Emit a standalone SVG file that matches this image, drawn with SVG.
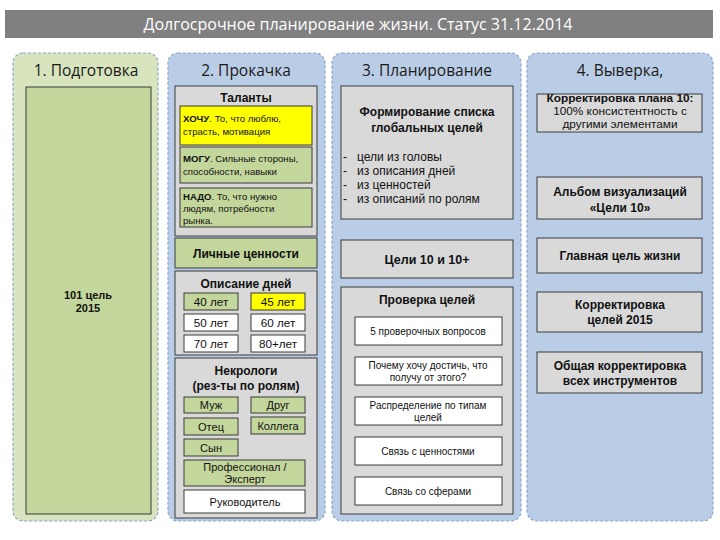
<svg xmlns="http://www.w3.org/2000/svg" width="720" height="540" viewBox="0 0 720 540">
<style>
.col{stroke:#8aa5cc;stroke-width:1.2;stroke-dasharray:3,2}
.cb{fill:#bacde6}
.cg{fill:#d7e4bd}
.hd{font-family:"Open Sans","Noto Sans",sans-serif;font-size:15.5px;fill:#1a1a1a;text-anchor:middle}
.bx{stroke:#3a3a3a;stroke-width:1}
.gray{fill:#d9d9d9}
.grn{fill:#c3d69b}
.yel{fill:#ffff00}
.wht{fill:#ffffff}
.t{font-family:"Liberation Sans",Arial,sans-serif;fill:#111}
.b{font-weight:bold}
.c{text-anchor:middle}
</style>
<rect width="720" height="540" fill="#ffffff"/>
<g id="header">
<rect x="5" y="10" width="708" height="28" fill="#808080"/>
<text x="358" y="30" class="hd" style="fill:#ffffff;font-size:16px">Долгосрочное планирование жизни. Статус 31.12.2014</text>
</g>
<g id="col1">
<rect x="13" y="53" width="145" height="468" rx="10" class="col cg"/>
<text x="86" y="76" class="hd">1. Подготовка</text>
</g>
<g id="col2">
<rect x="168" y="53" width="157" height="468" rx="10" class="col cb"/>
<text x="246" y="76" class="hd">2. Прокачка</text>
</g>
<g id="col3">
<rect x="332" y="53" width="189" height="468" rx="10" class="col cb"/>
<text x="427" y="76" class="hd">3. Планирование</text>
</g>
<g id="col4">
<rect x="527" y="53" width="186" height="468" rx="10" class="col cb"/>
<text x="620" y="76" class="hd">4. Выверка,</text>
</g>
<g id="goal101">
<rect x="26" y="87" width="125" height="427" class="bx grn"/>
<text x="88" y="299" class="t b c" font-size="11">101 цель</text>
<text x="88" y="312" class="t b c" font-size="11">2015</text>
</g>
<g id="talents">
<rect x="175" y="86" width="142" height="150" class="bx gray"/>
<text x="246" y="102" class="t b c" font-size="12">Таланты</text>
</g>
<g id="want">
<rect x="180" y="106" width="132" height="39" class="bx yel"/>
<text x="183" y="122" class="t" font-size="9.6"><tspan class="b">ХОЧУ</tspan>. То, что люблю,</text>
<text x="183" y="135" class="t" font-size="9.6">страсть, мотивация</text>
</g>
<g id="can">
<rect x="180" y="147" width="132" height="36" class="bx grn"/>
<text x="183" y="162" class="t" font-size="9.6"><tspan class="b">МОГУ</tspan>. Сильные стороны,</text>
<text x="183" y="175" class="t" font-size="9.6">способности, навыки</text>
</g>
<g id="need">
<rect x="180" y="188" width="132" height="39" class="bx grn"/>
<text x="183" y="200" class="t" font-size="9.6"><tspan class="b">НАДО</tspan>. То, что нужно</text>
<text x="183" y="212" class="t" font-size="9.6">людям, потребности</text>
<text x="183" y="224" class="t" font-size="9.6">рынка.</text>
</g>
<g id="values">
<rect x="175" y="238" width="142" height="30" class="bx grn"/>
<text x="246" y="258" class="t b c" font-size="12">Личные ценности</text>
</g>
<g id="days">
<rect x="175" y="271" width="142" height="84" class="bx gray"/>
<text x="246" y="288" class="t b c" font-size="12">Описание дней</text>
</g>
<g id="d40"><rect x="184" y="293" width="54" height="17" class="bx grn"/><text x="211" y="306" class="t c" font-size="11.7">40 лет</text></g>
<g id="d45"><rect x="251" y="293" width="54" height="17" class="bx yel"/><text x="278" y="306" class="t c" font-size="11.7">45 лет</text></g>
<g id="d50"><rect x="184" y="314" width="54" height="17" class="bx wht"/><text x="211" y="327" class="t c" font-size="11.7">50 лет</text></g>
<g id="d60"><rect x="251" y="314" width="54" height="17" class="bx wht"/><text x="278" y="327" class="t c" font-size="11.7">60 лет</text></g>
<g id="d70"><rect x="184" y="335" width="54" height="17" class="bx wht"/><text x="211" y="348" class="t c" font-size="11.7">70 лет</text></g>
<g id="d80"><rect x="251" y="335" width="54" height="17" class="bx wht"/><text x="278" y="348" class="t c" font-size="11.7">80+лет</text></g>
<g id="obits">
<rect x="175" y="358" width="142" height="160" class="bx gray"/>
<text x="246" y="375" class="t b c" font-size="12">Некрологи</text>
<text x="246" y="390" class="t b c" font-size="12">(рез-ты по ролям)</text>
</g>
<g id="r-husband"><rect x="184" y="397" width="54" height="16" class="bx grn"/><text x="211" y="409" class="t c" font-size="11">Муж</text></g>
<g id="r-friend"><rect x="251" y="397" width="54" height="16" class="bx grn"/><text x="278" y="409" class="t c" font-size="11">Друг</text></g>
<g id="r-father"><rect x="184" y="418" width="54" height="17" class="bx grn"/><text x="211" y="431" class="t c" font-size="11">Отец</text></g>
<g id="r-colleague"><rect x="251" y="417" width="54" height="17" class="bx grn"/><text x="278" y="430" class="t c" font-size="11">Коллега</text></g>
<g id="r-son"><rect x="184" y="439" width="54" height="17" class="bx grn"/><text x="211" y="452" class="t c" font-size="11">Сын</text></g>
<g id="r-pro"><rect x="184" y="460" width="121" height="26" class="bx grn"/><text x="245" y="471" class="t c" font-size="11">Профессионал /</text><text x="245" y="483" class="t c" font-size="11">Эксперт</text></g>
<g id="r-lead"><rect x="184" y="490" width="121" height="23" class="bx wht"/><text x="245" y="506" class="t c" font-size="11">Руководитель</text></g>
<g id="formlist">
<rect x="341" y="86" width="172" height="133" class="bx gray"/>
<text x="427" y="116" class="t b c" font-size="12">Формирование списка</text>
<text x="427" y="132" class="t b c" font-size="12">глобальных целей</text>
<g class="t" font-size="12">
<text x="343" y="161">-</text><text x="357" y="161">цели из головы</text>
<text x="343" y="175">-</text><text x="357" y="175">из описания дней</text>
<text x="343" y="189">-</text><text x="357" y="189">из ценностей</text>
<text x="343" y="203">-</text><text x="357" y="203">из описаний по ролям</text>
</g>
</g>
<g id="goals10">
<rect x="341" y="240" width="172" height="38" class="bx gray"/>
<text x="427" y="264" class="t b c" font-size="12.5">Цели 10 и 10+</text>
</g>
<g id="check">
<rect x="341" y="287" width="172" height="227" class="bx gray"/>
<text x="427" y="304" class="t b c" font-size="12">Проверка целей</text>
</g>
<g id="q5"><rect x="355" y="317" width="147" height="28" class="bx wht"/><text x="428" y="335" class="t c" font-size="10">5 проверочных вопросов</text></g>
<g id="why"><rect x="355" y="357" width="147" height="28" class="bx wht"/><text x="428" y="369" class="t c" font-size="10">Почему хочу достичь, что</text><text x="428" y="381" class="t c" font-size="10">получу от этого?</text></g>
<g id="types"><rect x="355" y="397" width="147" height="28" class="bx wht"/><text x="428" y="409" class="t c" font-size="10">Распределение по типам</text><text x="428" y="421" class="t c" font-size="10">целей</text></g>
<g id="linkvals"><rect x="355" y="437" width="147" height="28" class="bx wht"/><text x="428" y="455" class="t c" font-size="10">Связь с ценностями</text></g>
<g id="linkspheres"><rect x="355" y="477" width="147" height="28" class="bx wht"/><text x="428" y="495" class="t c" font-size="10">Связь со сферами</text></g>
<g id="corr10">
<rect x="537" y="94" width="165" height="38" class="bx gray"/>
<text x="620" y="102" class="t b c" font-size="11.8">Корректировка плана 10:</text>
<text x="620" y="115" class="t c" font-size="11.8">100% консистентность с</text>
<text x="620" y="128" class="t c" font-size="11.8">другими элементами</text>
</g>
<g id="album">
<rect x="537" y="177" width="165" height="42" class="bx gray"/>
<text x="620" y="196" class="t b c" font-size="12">Альбом визуализаций</text>
<text x="620" y="212" class="t b c" font-size="12">«Цели 10»</text>
</g>
<g id="maingoal">
<rect x="537" y="238" width="165" height="35" class="bx gray"/>
<text x="620" y="260" class="t b c" font-size="12">Главная цель жизни</text>
</g>
<g id="corr2015">
<rect x="537" y="292" width="165" height="40" class="bx gray"/>
<text x="620" y="309" class="t b c" font-size="12">Корректировка</text>
<text x="620" y="324" class="t b c" font-size="12">целей 2015</text>
</g>
<g id="corrall">
<rect x="537" y="352" width="165" height="41" class="bx gray"/>
<text x="620" y="370" class="t b c" font-size="12">Общая корректировка</text>
<text x="620" y="385" class="t b c" font-size="12">всех инструментов</text>
</g>
<g id="connectors"></g>
</svg>
